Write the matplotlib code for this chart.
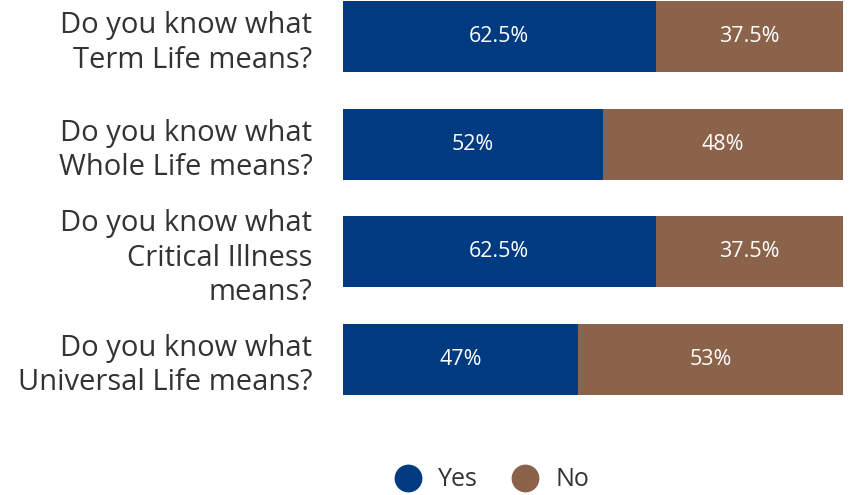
import matplotlib.pyplot as plt
from matplotlib.lines import Line2D

# Survey data
questions = [
    "Do you know what\nTerm Life means?",
    "Do you know what\nWhole Life means?",
    "Do you know what\nCritical Illness\nmeans?",
    "Do you know what\nUniversal Life means?",
]
yes_pct = [62.5, 52, 62.5, 47]
no_pct = [37.5, 48, 37.5, 53]
yes_labels = ["62.5%", "52%", "62.5%", "47%"]
no_labels = ["37.5%", "48%", "37.5%", "53%"]

blue = "#003a80"
brown = "#8b634a"

plt.rcParams['font.family'] = ['Open Sans', 'DejaVu Sans']

fig = plt.figure(figsize=(8.5, 4.95), dpi=100)
ax = fig.add_axes([343 / 850, 1 - 395 / 495, 500 / 850, 394 / 495])

y = list(range(len(questions)))
ax.barh(y, yes_pct, height=0.66, color=blue)
ax.barh(y, no_pct, left=yes_pct, height=0.66, color=brown)

for i in y:
    ax.text(yes_pct[i] / 2, i, yes_labels[i], ha='center', va='center',
            color='white', fontsize=15.5)
    ax.text(yes_pct[i] + no_pct[i] / 2, i, no_labels[i], ha='center', va='center',
            color='white', fontsize=15.5)

ax.set_xlim(0, 100)
ax.set_ylim(3.33, -0.33)
ax.set_yticks(y)
ax.set_yticklabels(questions, fontsize=21, color='#333333', linespacing=1.25)
ax.tick_params(axis='y', length=0, pad=22)
ax.set_xticks([])
for s in ax.spines.values():
    s.set_visible(False)

handles = [
    Line2D([], [], marker='o', linestyle='', markersize=19, color=blue, label='Yes'),
    Line2D([], [], marker='o', linestyle='', markersize=19, color=brown, label='No'),
]
fig.legend(handles=handles, loc='center', bbox_to_anchor=(486 / 850, 1 - 480 / 495),
           ncol=2, frameon=False, fontsize=18, handletextpad=0.2, columnspacing=0.9,
           labelcolor='#333333')

fig.savefig("out.png", dpi=100)
